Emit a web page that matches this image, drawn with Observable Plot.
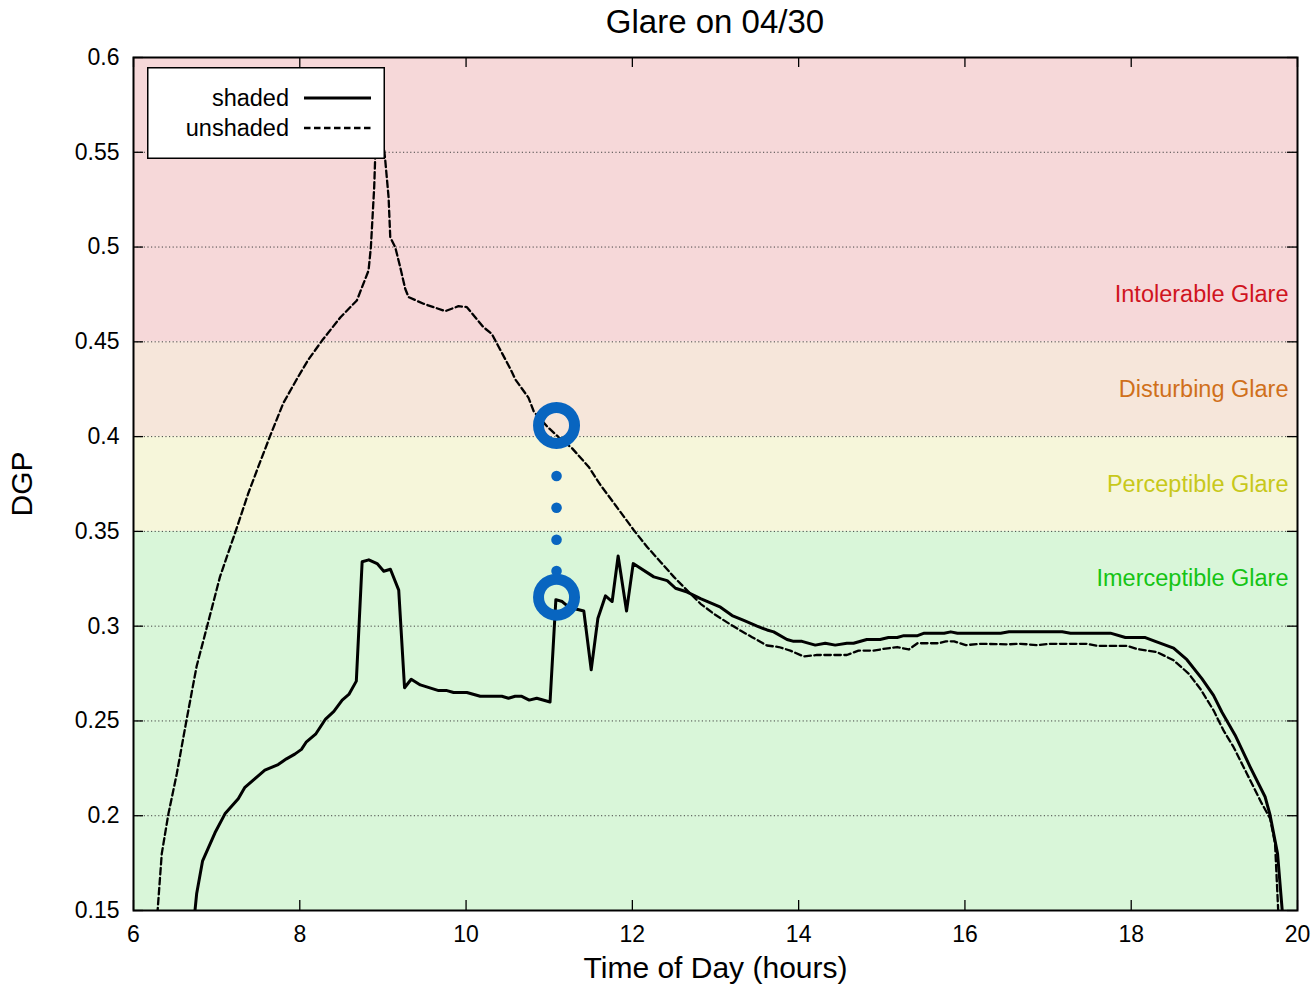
<!DOCTYPE html>
<html>
<head>
<meta charset="utf-8">
<script src="https://cdn.jsdelivr.net/npm/d3@7"></script>
<script src="https://cdn.jsdelivr.net/npm/@observablehq/plot@0.6"></script>
<style>
  html, body { margin: 0; padding: 0; background: #fff; }
  body { width: 1314px; height: 985px; position: relative; font-family: "Liberation Sans", Arial, sans-serif; }
  #title { box-sizing: border-box; height: 44px; padding-top: 1px; line-height: 42px; padding-left: 133px; padding-right: 17px; text-align: center; font-size: 33px; color: #000; }
  #legend { position: absolute; left: 147px; top: 67px; }
</style>
</head>
<body>
<div id="title">Glare on 04/30</div>
<div id="chart"></div>
<div id="legend"></div>
<script>
// ---- data ----
const shadedHours = [6.735, 6.76, 6.83, 6.98, 7.10, 7.26, 7.34, 7.58, 7.74, 7.84, 7.94, 8.02, 8.08, 8.19, 8.31, 8.41, 8.51, 8.59, 8.68, 8.75, 8.83, 8.93, 9.01, 9.09, 9.19, 9.26, 9.34, 9.45, 9.67, 9.77, 9.85, 10.01, 10.17, 10.43, 10.51, 10.59, 10.67, 10.76, 10.85, 11.01, 11.08, 11.156, 11.236, 11.416, 11.505, 11.585, 11.677, 11.757, 11.829, 11.93, 12.01, 12.258, 12.419, 12.519, 12.66, 12.82, 13.06, 13.20, 13.34, 13.50, 13.62, 13.70, 13.86, 13.94, 14.04, 14.20, 14.32, 14.44, 14.58, 14.66, 14.82, 14.98, 15.08, 15.185, 15.265, 15.43, 15.51, 15.75, 15.83, 15.91, 16.43, 16.53, 17.17, 17.27, 17.75, 17.93, 18.17, 18.29, 18.51, 18.67, 18.85, 18.99, 19.09, 19.25, 19.43, 19.61, 19.67, 19.76, 19.82];
const shadedDGP = [0.148, 0.159, 0.176, 0.191, 0.201, 0.209, 0.215, 0.224, 0.227, 0.230, 0.2325, 0.235, 0.239, 0.243, 0.251, 0.255, 0.261, 0.264, 0.271, 0.334, 0.335, 0.333, 0.329, 0.330, 0.319, 0.2675, 0.272, 0.269, 0.266, 0.266, 0.265, 0.265, 0.263, 0.263, 0.262, 0.263, 0.263, 0.261, 0.262, 0.260, 0.314, 0.313, 0.310, 0.308, 0.277, 0.304, 0.316, 0.313, 0.337, 0.308, 0.333, 0.326, 0.324, 0.320, 0.318, 0.3145, 0.310, 0.3056, 0.303, 0.300, 0.298, 0.297, 0.293, 0.292, 0.292, 0.290, 0.291, 0.290, 0.291, 0.291, 0.293, 0.293, 0.294, 0.294, 0.295, 0.295, 0.2963, 0.2963, 0.297, 0.2963, 0.2963, 0.297, 0.297, 0.2963, 0.2963, 0.294, 0.294, 0.292, 0.2884, 0.2823, 0.2723, 0.2635, 0.2547, 0.2425, 0.2258, 0.210, 0.2004, 0.180, 0.148];

const unshadedHours = [6.28, 6.29, 6.34, 6.42, 6.52, 6.64, 6.76, 6.88, 7.04, 7.22, 7.38, 7.50, 7.64, 7.80, 7.96, 8.10, 8.27, 8.49, 8.686, 8.827, 8.855, 8.895, 8.907, 8.96, 9.028, 9.068, 9.088, 9.148, 9.208, 9.268, 9.308, 9.488, 9.749, 9.909, 10.01, 10.21, 10.31, 10.35, 10.53, 10.595, 10.75, 10.815, 10.976, 11.115, 11.276, 11.476, 11.617, 11.797, 12.018, 12.178, 12.339, 12.499, 12.679, 12.82, 12.98, 13.14, 13.30, 13.44, 13.62, 13.76, 13.90, 14.06, 14.22, 14.58, 14.72, 14.90, 15.02, 15.185, 15.325, 15.43, 15.69, 15.77, 15.87, 16.01, 16.19, 16.51, 16.67, 16.87, 17.03, 17.47, 17.59, 17.95, 18.07, 18.31, 18.51, 18.69, 18.83, 18.99, 19.11, 19.23, 19.39, 19.57, 19.67, 19.73, 19.77];
const unshadedDGP = [0.148, 0.150, 0.180, 0.201, 0.222, 0.251, 0.279, 0.299, 0.326, 0.349, 0.370, 0.384, 0.400, 0.4175, 0.430, 0.4404, 0.4508, 0.463, 0.4718, 0.4876, 0.4999, 0.5316, 0.5474, 0.575, 0.5457, 0.5263, 0.5052, 0.4999, 0.4894, 0.478, 0.4736, 0.4701, 0.4662, 0.4688, 0.4683, 0.4577, 0.4542, 0.4508, 0.436, 0.430, 0.4206, 0.4132, 0.4053, 0.3996, 0.3938, 0.384, 0.3744, 0.3638, 0.3506, 0.3418, 0.3339, 0.326, 0.318, 0.3118, 0.3065, 0.302, 0.2977, 0.2942, 0.2898, 0.289, 0.2871, 0.284, 0.2848, 0.2848, 0.2871, 0.2871, 0.288, 0.289, 0.2877, 0.291, 0.291, 0.292, 0.292, 0.290, 0.2907, 0.2904, 0.2907, 0.290, 0.2907, 0.2907, 0.2896, 0.2896, 0.288, 0.2863, 0.282, 0.275, 0.267, 0.2556, 0.245, 0.2363, 0.2223, 0.2065, 0.1986, 0.1854, 0.148];

// glare bands
const bandNames  = ["Imerceptible Glare", "Perceptible Glare", "Disturbing Glare", "Intolerable Glare"];
const bandLow    = [0.15, 0.35, 0.40, 0.45];
const bandHigh   = [0.35, 0.40, 0.45, 0.60];
const bandLabelDGP = [0.325, 0.375, 0.425, 0.475];
const bandFill   = ["#d9f6d9", "#f6f6da", "#f6e6da", "#f6d8d9"];
const bandText   = ["#14c414", "#c8c81a", "#d0701a", "#d0141e"];

// highlight annotation (blue rings and dots)
const markHour = 11.088;
const ringDGP  = [0.4059, 0.3153];
const dotDGP   = [0.3792, 0.3625, 0.3456, 0.3291];

// axes
const xTicks = [6, 8, 10, 12, 14, 16, 18, 20];
const xTickLabels = ["6", "8", "10", "12", "14", "16", "18", "20"];
const yTicks = [0.15, 0.2, 0.25, 0.3, 0.35, 0.4, 0.45, 0.5, 0.55, 0.6];
const yTickLabels = ["0.15", "0.2", "0.25", "0.3", "0.35", "0.4", "0.45", "0.5", "0.55", "0.6"];
const gridValues = [0.2, 0.25, 0.3, 0.35, 0.4, 0.45, 0.5, 0.55];

const seriesNames = ["shaded", "unshaded"];

// ---- build tables ----
const shaded = shadedHours.map((h, i) => ({hour: h, dgp: shadedDGP[i]}));
const unshaded = unshadedHours.map((h, i) => ({hour: h, dgp: unshadedDGP[i]}));
const bands = bandNames.map((n, i) => ({name: n, lo: bandLow[i], hi: bandHigh[i], label: bandLabelDGP[i], fill: bandFill[i], color: bandText[i]}));
const rings = ringDGP.map(v => ({hour: markHour, dgp: v}));
const dots = dotDGP.map(v => ({hour: markHour, dgp: v}));

const W = 1314, H = 941;
const mL = 133, mR = 17, mT = 13, mB = 75;
const innerW = W - mL - mR, innerH = H - mT - mB;
const tickLen = 10;
const font = "'Liberation Sans', Arial, Helvetica, sans-serif";
const dash = "6.5,3.5";

const chart = Plot.plot({
  width: W, height: H,
  marginLeft: mL, marginRight: mR, marginTop: mT, marginBottom: mB,
  style: {fontFamily: font, fontSize: "23px", color: "#000", background: "transparent"},
  x: {domain: [6, 20]},
  y: {domain: [0.15, 0.6]},
  marks: [
    Plot.rect(bands, {y1: "lo", y2: "hi", fill: "fill"}),
    Plot.ruleY(gridValues, {stroke: "#444", strokeWidth: 1, strokeDasharray: "1.2,2.4"}),
    Plot.text(bands, {y: "label", text: "name", frameAnchor: "right", textAnchor: "end", lineAnchor: "middle", dx: -9, fill: "color", fontSize: 23.5}),
    Plot.line(unshaded, {x: "hour", y: "dgp", stroke: "#000", strokeWidth: 2.3, strokeDasharray: dash, clip: true}),
    Plot.line(shaded, {x: "hour", y: "dgp", stroke: "#000", strokeWidth: 3, clip: true}),
    Plot.dot(dots, {x: "hour", y: "dgp", r: 5.3, fill: "#0865c0", stroke: "none"}),
    Plot.dot(rings, {x: "hour", y: "dgp", r: 18, fill: "none", stroke: "#0865c0", strokeWidth: 11}),
    Plot.frame({stroke: "#000", strokeWidth: 2}),
    // inward ticks on all four sides
    Plot.tickX(xTicks, {x: d => d, insetTop: innerH - tickLen, stroke: "#000", strokeWidth: 1.3}),
    Plot.tickX(xTicks, {x: d => d, insetBottom: innerH - tickLen, stroke: "#000", strokeWidth: 1.3}),
    Plot.tickY(yTicks, {y: d => d, insetRight: innerW - tickLen, stroke: "#000", strokeWidth: 1.3}),
    Plot.tickY(yTicks, {y: d => d, insetLeft: innerW - tickLen, stroke: "#000", strokeWidth: 1.3}),
    Plot.axisX({ticks: xTicks, tickFormat: (d) => xTickLabels[xTicks.indexOf(d)], tickSize: 0, tickPadding: 15, label: null, fontSize: 23}),
    Plot.axisY({ticks: yTicks, tickFormat: (d) => yTickLabels[yTicks.indexOf(d)], tickSize: 0, tickPadding: 14, label: null, fontSize: 23}),
    Plot.text(["Time of Day (hours)"], {text: d => d, frameAnchor: "bottom", textAnchor: "middle", lineAnchor: "middle", dy: 58, fontSize: 30, fill: "#000"}),
    Plot.text(["DGP"], {text: d => d, frameAnchor: "left", textAnchor: "middle", lineAnchor: "middle", rotate: -90, dx: -111, fontSize: 30, fill: "#000"})
  ]
});
document.getElementById("chart").appendChild(chart);

// legend overlay
const ns = "http://www.w3.org/2000/svg";
const lg = document.createElementNS(ns, "svg");
lg.setAttribute("width", 238); lg.setAttribute("height", 92);
lg.style.display = "block";
const bg = document.createElementNS(ns, "rect");
bg.setAttribute("x", 0.75); bg.setAttribute("y", 0.75); bg.setAttribute("width", 236.5); bg.setAttribute("height", 90.5);
bg.setAttribute("fill", "#fff"); bg.setAttribute("stroke", "#000"); bg.setAttribute("stroke-width", 1.5);
lg.appendChild(bg);
seriesNames.forEach((name, i) => {
  const yy = 31 + i * 30;
  const t = document.createElementNS(ns, "text");
  t.setAttribute("x", 142); t.setAttribute("y", yy);
  t.setAttribute("text-anchor", "end"); t.setAttribute("dominant-baseline", "central");
  t.setAttribute("font-family", font); t.setAttribute("font-size", 23.5);
  t.textContent = name;
  lg.appendChild(t);
  const l = document.createElementNS(ns, "line");
  l.setAttribute("x1", 157); l.setAttribute("x2", 224); l.setAttribute("y1", yy); l.setAttribute("y2", yy);
  l.setAttribute("stroke", "#000");
  l.setAttribute("stroke-width", i === 0 ? 3 : 2.3);
  if (i === 1) l.setAttribute("stroke-dasharray", dash);
  lg.appendChild(l);
});
document.getElementById("legend").appendChild(lg);
</script>
</body>
</html>
